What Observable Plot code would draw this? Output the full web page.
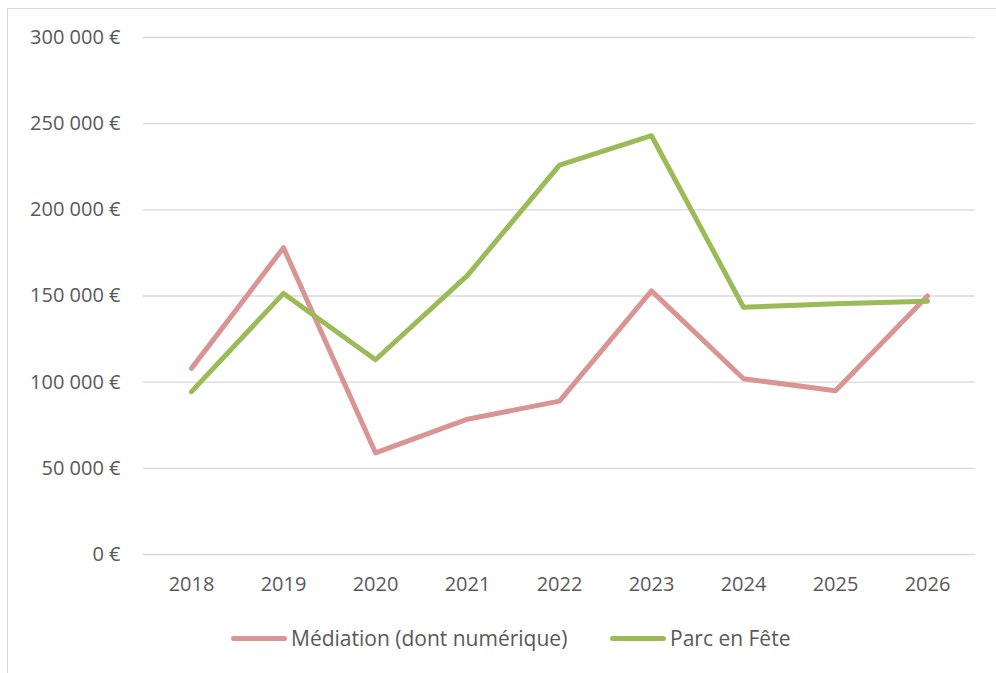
<!DOCTYPE html>
<html>
<head>
<meta charset="utf-8">
<script src="https://cdn.jsdelivr.net/npm/d3@7"></script>
<script src="https://cdn.jsdelivr.net/npm/@observablehq/plot@0.6"></script>
<style>
  html, body { margin: 0; padding: 0; background: #fff; }
  #wrap { position: relative; width: 996px; height: 673px; overflow: hidden; font-family: "Open Sans", sans-serif; }
  #frame { position: absolute; left: 7px; top: 8px; width: 1200px; height: 900px; border: 1px solid #D9D9D9; pointer-events: none; }
  #chart { position: absolute; left: 0; top: 0; }
  .leg { position: absolute; top: 624px; display: flex; align-items: center; font-size: 21px; color: #595959; }
  .leg span.sw { display: inline-block; height: 5px; border-radius: 3px; margin-right: 4px; }
</style>
</head>
<body>
<div id="wrap">
  <div id="frame"></div>
  <div id="chart"></div>
  <div class="leg" id="leg1" style="left:231px"><span class="sw" style="width:56px;background:#D99594"></span><span>Médiation (dont numérique)</span></div>
  <div class="leg" id="leg2" style="left:610px"><span class="sw" style="width:56px;background:#9BBB59"></span><span>Parc en Fête</span></div>
</div>
<script>
const years = ["2018","2019","2020","2021","2022","2023","2024","2025","2026"];
const mediation = [108000, 178000, 59000, 78500, 89000, 153000, 102000, 95000, 150000];
const parcEnFete = [94500, 151500, 113000, 162000, 226000, 243000, 143500, 145500, 147000];
const seriesNames = ["Médiation (dont numérique)", "Parc en Fête"];
const seriesColors = ["#D99594", "#9BBB59"];
const yTicks = [0, 50000, 100000, 150000, 200000, 250000, 300000];

const data = [];
years.forEach((y, i) => {
  data.push({year: y, value: mediation[i], series: seriesNames[0]});
  data.push({year: y, value: parcEnFete[i], series: seriesNames[1]});
});

const fmt = d => d3.format(",")(d).replace(/,/g, " ") + " €";

const chart = Plot.plot({
  width: 996,
  height: 610,
  marginLeft: 143,
  marginRight: 21,
  marginTop: 37,
  marginBottom: 56,
  style: { fontFamily: "Open Sans, sans-serif", fontSize: "20px", color: "#595959", background: "transparent" },
  x: { type: "point", domain: years, padding: 0.5, label: null },
  y: { domain: [0, 300000], label: null },
  color: { domain: seriesNames, range: seriesColors },
  marks: [
    Plot.gridY(yTicks, { stroke: "#D9D9D9", strokeOpacity: 1, strokeWidth: 1.3 }),
    Plot.axisY(yTicks, { tickSize: 0, tickPadding: 23, tickFormat: fmt, fill: "#595959", fontSize: 20 }),
    Plot.axisX(years, { tickSize: 0, tickPadding: 22, fill: "#595959", fontSize: 20 }),
    Plot.line(data, { x: "year", y: "value", z: "series", stroke: "series", strokeWidth: 5, strokeLinecap: "round", strokeLinejoin: "round" })
  ]
});
document.getElementById("chart").appendChild(chart);
</script>
</body>
</html>
